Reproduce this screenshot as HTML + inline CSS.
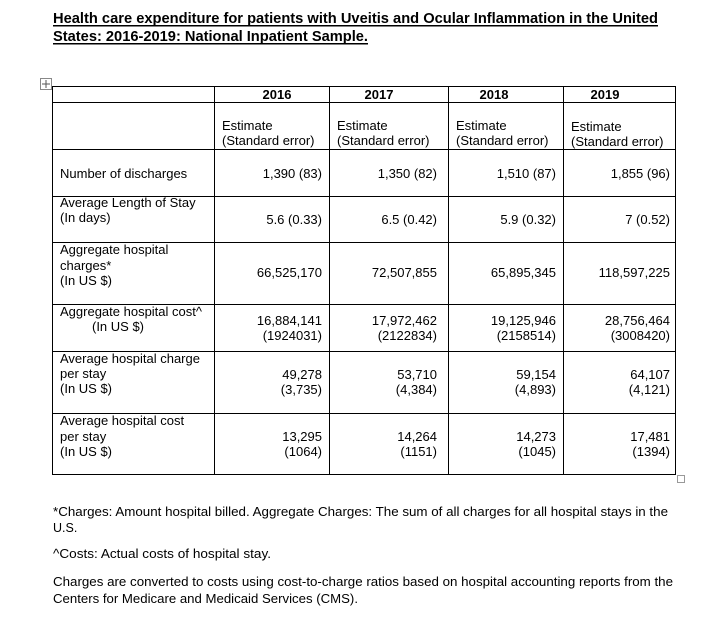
<!DOCTYPE html>
<html><head><meta charset="utf-8"><style>
html,body{margin:0;padding:0;background:#fff;}
svg{display:block;font-family:"Liberation Sans",Arial,sans-serif;}
</style></head><body>
<svg width="722" height="626" viewBox="0 0 722 626" xmlns="http://www.w3.org/2000/svg">
<g font-weight="bold" font-size="14.5" fill="#000">
<text x="53" y="23" textLength="605" lengthAdjust="spacingAndGlyphs">Health care expenditure for patients with Uveitis and Ocular Inflammation in the United</text>
<text x="53" y="41" textLength="315" lengthAdjust="spacingAndGlyphs">States: 2016-2019: National Inpatient Sample.</text>
</g>
<rect x="53" y="25" width="605" height="1.5" fill="#000"/>
<rect x="53" y="43" width="315" height="1.5" fill="#000"/>
<rect x="40.5" y="78.5" width="11" height="11" fill="#fff" stroke="#888"/>
<path d="M46 80v8M42 84h8" stroke="#555" stroke-width="1"/>
<g stroke="#000" stroke-width="1" fill="none">
<rect x="52.5" y="86.5" width="623" height="388"/>
<path d="M214.5 86v389M329.5 86v389M448.5 86v389M563.5 86v389"/>
<path d="M52 102.5h624M52 149.5h624M52 196.5h624M52 242.5h624M52 304.5h624M52 351.5h624M52 413.5h624"/>
</g>
<rect x="677.5" y="475.5" width="7" height="7" fill="#fff" stroke="#999"/>
<g font-size="13" fill="#000">
<g font-weight="bold" text-anchor="middle">
<text x="277" y="99">2016</text><text x="379" y="99">2017</text><text x="494" y="99">2018</text><text x="605" y="99">2019</text>
</g>
<text x="222" y="130">Estimate</text><text x="222" y="145">(Standard error)</text>
<text x="337" y="130">Estimate</text><text x="337" y="145">(Standard error)</text>
<text x="456" y="130">Estimate</text><text x="456" y="145">(Standard error)</text>
<text x="571" y="131">Estimate</text><text x="571" y="146">(Standard error)</text>

<text x="60" y="178">Number of discharges</text>
<text x="60" y="207">Average Length of Stay</text><text x="60" y="222">(In days)</text>
<text x="60" y="254">Aggregate hospital</text><text x="60" y="270">charges*</text><text x="60" y="285">(In US $)</text>
<text x="60" y="316">Aggregate hospital cost^</text><text x="118" y="331" text-anchor="middle">(In US $)</text>
<text x="60" y="363">Average hospital charge</text><text x="60" y="378">per stay</text><text x="60" y="393">(In US $)</text>
<text x="60" y="425">Average hospital cost</text><text x="60" y="441">per stay</text><text x="60" y="456">(In US $)</text>

<g text-anchor="end">
<text x="322" y="178">1,390 (83)</text><text x="437" y="178">1,350 (82)</text><text x="556" y="178">1,510 (87)</text><text x="670" y="178">1,855 (96)</text>
<text x="322" y="224">5.6 (0.33)</text><text x="437" y="224">6.5 (0.42)</text><text x="556" y="224">5.9 (0.32)</text><text x="670" y="224">7 (0.52)</text>
<text x="322" y="277">66,525,170</text><text x="437" y="277">72,507,855</text><text x="556" y="277">65,895,345</text><text x="670" y="277">118,597,225</text>
<text x="322" y="325">16,884,141</text><text x="437" y="325">17,972,462</text><text x="556" y="325">19,125,946</text><text x="670" y="325">28,756,464</text>
<text x="322" y="340">(1924031)</text><text x="437" y="340">(2122834)</text><text x="556" y="340">(2158514)</text><text x="670" y="340">(3008420)</text>
<text x="322" y="379">49,278</text><text x="437" y="379">53,710</text><text x="556" y="379">59,154</text><text x="670" y="379">64,107</text>
<text x="322" y="394">(3,735)</text><text x="437" y="394">(4,384)</text><text x="556" y="394">(4,893)</text><text x="670" y="394">(4,121)</text>
<text x="322" y="441">13,295</text><text x="437" y="441">14,264</text><text x="556" y="441">14,273</text><text x="670" y="441">17,481</text>
<text x="322" y="456">(1064)</text><text x="437" y="456">(1151)</text><text x="556" y="456">(1045)</text><text x="670" y="456">(1394)</text>
</g>
</g>
<g font-size="12.5" fill="#000">
<text x="53" y="516" textLength="615" lengthAdjust="spacingAndGlyphs">*Charges: Amount hospital billed. Aggregate Charges: The sum of all charges for all hospital stays in the</text>
<text x="53" y="532">U.S.</text>
<text x="53" y="558" textLength="218" lengthAdjust="spacingAndGlyphs">^Costs: Actual costs of hospital stay.</text>
<text x="53" y="586" textLength="620" lengthAdjust="spacingAndGlyphs">Charges are converted to costs using cost-to-charge ratios based on hospital accounting reports from the</text>
<text x="53" y="603" textLength="305" lengthAdjust="spacingAndGlyphs">Centers for Medicare and Medicaid Services (CMS).</text>
</g>
</svg>
</body></html>
